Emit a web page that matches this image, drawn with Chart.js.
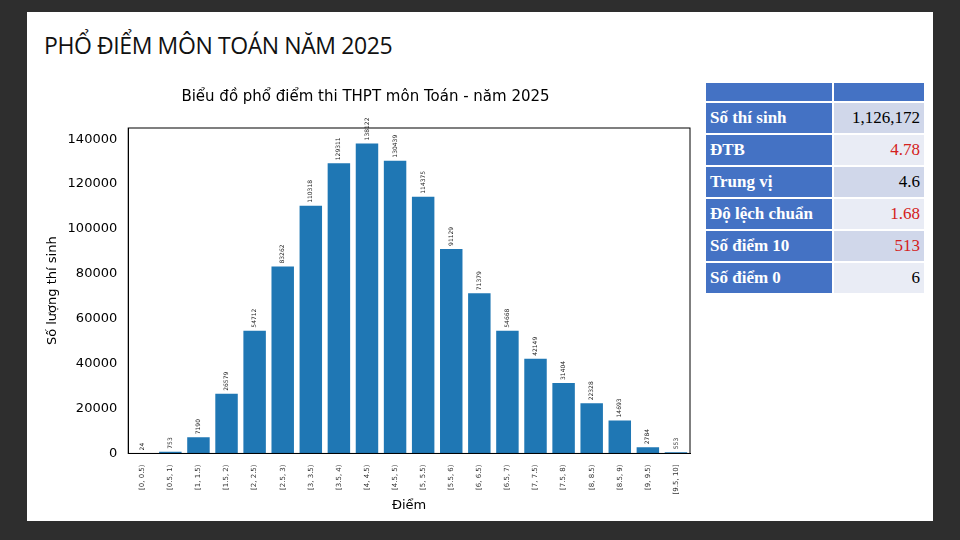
<!DOCTYPE html>
<html>
<head>
<meta charset="utf-8">
<script src="https://cdn.jsdelivr.net/npm/chart.js@4"></script>
<style>
  body { margin: 0; width: 960px; height: 540px; background: #2e2e2e; position: relative; overflow: hidden; font-family: "Open Sans", sans-serif; }
  .slide { position: absolute; left: 27px; top: 12px; width: 906px; height: 509px; background: #fff; }
  .heading { position: absolute; left: 44px; top: 29px; font-size: 23px; color: #111; font-family: "Open Sans", sans-serif; letter-spacing: -0.4px; }
  .chartbox { position: absolute; left: 37px; top: 82px; width: 663px; height: 435px; background: #fff; }
  table { position: absolute; left: 706px; top: 81px; width: 218px; border-collapse: separate; border-spacing: 0 2px; font-family: "Liberation Serif", serif; font-size: 17px; }
  td { height: 30px; padding: 0 4px; }
  td.k { background: #4472c4; color: #fff; font-weight: bold; width: 118px; border-right: 2px solid #fff; }
  td.v { text-align: right; background: #e9ecf5; }
  tr:nth-child(2n) td.v { background: #d0d7ea; }
  tr.head td { height: 18px; background: #4472c4; }
  .red { color: #d42020; }
</style>
</head>
<body>
<div class="slide"></div>
<div class="heading">PHỔ ĐIỂM MÔN TOÁN NĂM 2025</div>
<div class="chartbox"><canvas id="c" width="663" height="435"></canvas></div>
<table id="stats"><tr class="head"><td class="k"></td><td class="v" style="background:#4472c4"></td></tr></table>
<script>
const categories = ['[0, 0.5)', '[0.5, 1)', '[1, 1.5)', '[1.5, 2)', '[2, 2.5)', '[2.5, 3)', '[3, 3.5)', '[3.5, 4)', '[4, 4.5)', '[4.5, 5)',
  '[5, 5.5)', '[5.5, 6)', '[6, 6.5)', '[6.5, 7)', '[7, 7.5)', '[7.5, 8)', '[8, 8.5)', '[8.5, 9)', '[9, 9.5)', '[9.5, 10]'];
const counts = [24, 753, 7190, 26579, 54712, 83262, 110318, 129311, 138122, 130439,
  114375, 91129, 71379, 54668, 42149, 31404, 22328, 14693, 2784, 553];
const yTicks = [0, 20000, 40000, 60000, 80000, 100000, 120000, 140000];
const statLabels = ['Số thí sinh', 'ĐTB', 'Trung vị', 'Độ lệch chuẩn', 'Số điểm 10', 'Số điểm 0'];
const statValues = ['1,126,172', '4.78', '4.6', '1.68', '513', '6'];
const statRed = [false, true, false, true, true, false];

const table = document.getElementById('stats');
statLabels.forEach((l, i) => {
  const tr = document.createElement('tr');
  tr.innerHTML = '<td class="k">' + l + '</td><td class="v' + (statRed[i] ? ' red' : '') + '">' + statValues[i] + '</td>';
  table.appendChild(tr);
});

// value labels above bars + frame around plot
const extras = {
  id: 'extras',
  afterDatasetsDraw(chart) {
    const ctx = chart.ctx;
    const meta = chart.getDatasetMeta(0);
    ctx.save();
    ctx.font = '6px "DejaVu Sans"';
    ctx.fillStyle = '#222';
    ctx.textAlign = 'left';
    ctx.textBaseline = 'middle';
    meta.data.forEach((bar, i) => {
      ctx.save();
      ctx.translate(bar.x, bar.y - 3);
      ctx.rotate(-Math.PI / 2);
      ctx.fillText(String(counts[i]), 0, 0);
      ctx.restore();
    });
    const a = chart.chartArea;
    ctx.strokeStyle = '#000';
    ctx.lineWidth = 1;
    ctx.strokeRect(a.left, a.top, a.right - a.left, a.bottom - a.top);
    ctx.restore();
  }
};

new Chart(document.getElementById('c'), {
  type: 'bar',
  data: {
    labels: categories,
    datasets: [{ data: counts, backgroundColor: '#1f77b4', categoryPercentage: 0.8, barPercentage: 1 }]
  },
  options: {
    responsive: false,
    animation: false,
    layout: { padding: { top: 4, right: 10, left: 4, bottom: 4 } },
    plugins: {
      legend: { display: false },
      tooltip: { enabled: false },
      title: { display: true, text: 'Biểu đồ phổ điểm thi THPT môn Toán - năm 2025', color: '#000',
        font: { family: 'DejaVu Sans', size: 15, weight: 'normal' }, padding: { top: 2, bottom: 22 } }
    },
    scales: {
      x: {
        grid: { display: false, drawTicks: true },
        border: { color: '#000' },
        ticks: { color: '#333', font: { family: 'DejaVu Sans', size: 7 }, maxRotation: 90, minRotation: 90, autoSkip: false },
        title: { display: true, text: 'Điểm', color: '#000', font: { family: 'DejaVu Sans', size: 13 }, padding: 0 }
      },
      y: {
        min: 0, max: 145000,
        grid: { display: false },
        border: { color: '#000' },
        afterBuildTicks: (axis) => { axis.ticks = yTicks.map(v => ({ value: v })); },
        ticks: { color: '#000', font: { family: 'DejaVu Sans', size: 13 }, callback: (v) => String(v) },
        title: { display: true, text: 'Số lượng thí sinh', color: '#000', font: { family: 'DejaVu Sans', size: 13 } }
      }
    }
  },
  plugins: [extras]
});
</script>
</body>
</html>
